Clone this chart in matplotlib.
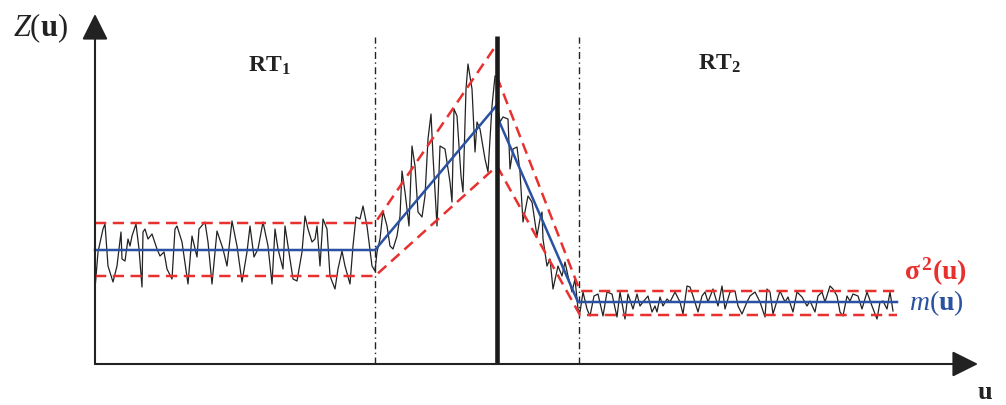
import numpy as np
import matplotlib
matplotlib.use("Agg")
import matplotlib.pyplot as plt

plt.rcParams["font.family"] = ["Liberation Serif", "DejaVu Serif"]
plt.rcParams["mathtext.fontset"] = "custom"
plt.rcParams["mathtext.rm"] = "Liberation Serif"
plt.rcParams["mathtext.it"] = "Liberation Serif:italic"
plt.rcParams["mathtext.bf"] = "Liberation Serif:bold"

# noisy realisation Z(u) (u along the axis, Z above it)
noise_u = [
    0, 3, 8, 10, 13, 18, 22, 26, 27, 30, 33, 35, 37, 41, 44, 47, 48, 50, 53, 57,
    62, 65, 69, 72, 77, 80, 82, 87, 93, 97, 102, 104, 110, 113, 117, 122, 128, 132, 137, 142,
    147, 152, 155, 159, 163, 168, 173, 177, 180, 183, 188, 190, 193, 198, 202, 207, 210, 213, 217, 220,
    222, 225, 228, 232, 235, 240, 243, 247, 250, 255, 258, 261, 265, 268, 272, 277, 280,
    282, 285, 288, 292, 295, 298, 302, 305, 307, 310, 314, 317, 320, 323, 327, 330, 333, 336, 338,
    342, 345, 350, 355, 357, 359, 362, 366, 368, 371, 373, 377, 380, 382, 385, 390, 393, 397, 400, 402,
    402, 405, 408, 413, 415, 418, 422, 425, 428, 433, 437, 442, 445, 447, 448, 452, 455, 458, 463, 467,
    470, 473, 477, 480, 483,
    485, 488, 492, 495, 499, 503, 508, 512, 517, 522, 525, 530, 533, 538, 542, 545, 548, 553, 557, 560,
    562, 565, 568, 572, 575, 580, 585, 588, 592, 595, 598, 603, 607, 610, 613, 618, 623, 627, 630, 635,
    640, 643, 647, 652, 655, 660, 665, 670, 672, 675, 678, 685, 690, 693, 698, 702, 707, 712, 715, 720,
    723, 727, 730, 735, 738, 742, 745, 748, 752, 755, 758, 763, 767, 772, 777, 782, 785, 788, 792, 795,
    798,
]
noise_z = [
    75, 112, 135, 140, 98, 82, 98, 132, 105, 103, 125, 118, 128, 140, 115, 77, 132, 135, 125, 130,
    115, 108, 112, 95, 85, 135, 138, 122, 80, 128, 107, 135, 142, 122, 80, 133, 115, 98, 143, 118,
    82, 112, 138, 107, 115, 142, 118, 80, 135, 115, 95, 138, 118, 85, 83, 112, 148, 135, 122, 125,
    138, 98, 145, 135, 88, 75, 95, 113, 98, 80, 118, 147, 145, 158, 138, 98, 93,
    112, 125, 153, 138, 118, 115, 128, 148, 193, 172, 138, 218, 198, 152, 147, 168, 225, 250, 208,
    138, 218, 215, 182, 162, 255, 248, 188, 172, 275, 300, 275, 212, 242, 235, 205, 192, 258, 288, 288,
    262, 242, 247, 245, 195, 215, 217, 192, 142, 168, 162, 128, 145, 152, 125, 98, 105, 75, 98, 88,
    102, 88, 72, 85, 55,
    52, 72, 55, 48, 68, 70, 48, 72, 70, 47, 72, 45, 70, 55, 70, 58, 62, 68, 52, 58,
    52, 67, 58, 65, 62, 72, 62, 50, 78, 77, 68, 52, 68, 72, 62, 75, 58, 78, 55, 72,
    73, 58, 50, 62, 68, 72, 62, 47, 75, 72, 50, 73, 62, 67, 52, 72, 67, 58, 63, 52,
    68, 72, 62, 78, 75, 68, 52, 48, 68, 63, 70, 68, 55, 72, 58, 45, 62, 63, 55, 72,
    53,
]

# mean m(u): stationary, linear up, linear down, stationary
mean_left_u = [0, 280, 402]
mean_left_z = [114, 114, 259]
mean_right_u = [404, 483, 802]
mean_right_z = [243, 62, 62]

# variance envelope sigma^2(u)
upper_left_u = [0, 280, 402]
upper_left_z = [141, 141, 320]
lower_left_u = [0, 280, 402]
lower_left_z = [88, 88, 198]
upper_right_u = [402, 485, 802]
upper_right_z = [287, 73, 73]
lower_right_u = [402, 485, 802]
lower_right_z = [198, 49, 49]

boundaries = [280, 484]
hard_contact = 402

RED = "#e8312f"
BLUE = "#2a52a0"
INK = "#222222"

fig = plt.figure(figsize=(10.06, 4.06), dpi=100)
ax = fig.add_axes([0, 0, 1, 1])
ax.set_xlim(-95, 911)
ax.set_ylim(-41, 365)
ax.axis("off")

ax.plot(noise_u, noise_z, color=INK, lw=0.9, zorder=2)

dash_kw = dict(color=RED, lw=1.8, dashes=(4.5, 2.6), zorder=3)
ax.plot(upper_left_u, upper_left_z, **dash_kw)
ax.plot(lower_left_u, lower_left_z, **dash_kw)
ax.plot(upper_right_u, upper_right_z, **dash_kw)
ax.plot(lower_right_u, lower_right_z, **dash_kw)

ax.plot(mean_left_u, mean_left_z, color=BLUE, lw=1.8, zorder=4)
ax.plot(mean_right_u, mean_right_z, color=BLUE, lw=1.8, zorder=4)

for b in boundaries:
    ax.plot([b, b], [0, 327], color=INK, lw=1.0, dashes=(5, 2.5, 1, 2.5), zorder=1)
ax.plot([hard_contact, hard_contact], [0, 328], color="#1a1a1a", lw=3.3, zorder=5,
        solid_capstyle="butt")

# axes with arrow heads
arrow = dict(arrowstyle="-|>,head_length=0.8,head_width=0.4", mutation_scale=20,
             lw=1.5, color=INK, shrinkA=0, shrinkB=0)
ax.annotate("", xy=(0, 350), xytext=(0, 0), arrowprops=arrow, zorder=6)
ax.annotate("", xy=(883, 0), xytext=(0, 0), arrowprops=arrow, zorder=6)

ax.text(-55, 337, r"$Z(\mathbf{u})$", fontsize=22, ha="center", va="center", color=INK)
ax.text(890, -39, r"$\mathbf{u}$", fontsize=19, ha="center", va="bottom", color=INK)
ax.text(174, 293, r"$\mathbf{RT}_{\mathbf{1}}$", fontsize=17, ha="center", va="baseline", color=INK)
ax.text(624, 295, r"$\mathbf{RT}_{\mathbf{2}}$", fontsize=17, ha="center", va="baseline", color=INK)
ax.text(809, 93, r"$\mathbf{σ}^{\,\mathbf{2}}\mathbf{(u)}$", fontsize=20, ha="left", va="center", color=RED)
ax.text(814, 62, r"$m(\mathbf{u})$", fontsize=20, ha="left", va="center", color=BLUE)

fig.savefig("out.png", dpi=100)
